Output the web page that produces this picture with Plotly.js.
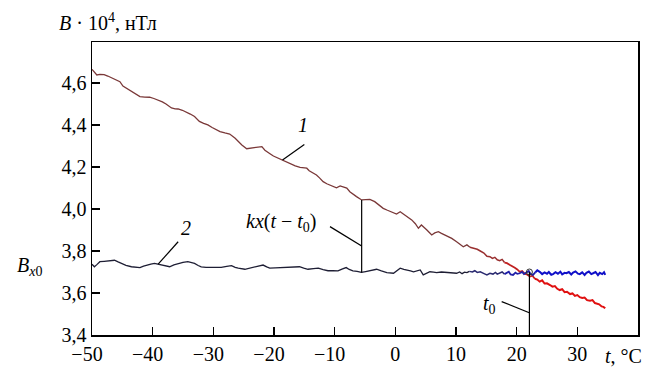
<!DOCTYPE html>
<html>
<head>
<meta charset="utf-8">
<script src="https://cdn.plot.ly/plotly-3.0.1.min.js"></script>
<style>
html,body{margin:0;padding:0;background:#fff;}
#chart{width:655px;height:372px;}
</style>
</head>
<body>
<div id="chart"></div>
<script>
// ---- data ----
const t1 = [-50,-49.6,-49.2,-48.7,-48.0,-47.4,-46.8,-46.3,-45.4,-44.9,-44.2,-43.5,-42.8,-42.1,-41.3,-40.5,-39.8,-39.1,-38.4,-37.8,-36.9,-36.3,-35.8,-35.1,-34.5,-33.8,-33.1,-32.3,-31.6,-30.9,-30.2,-29.5,-28.9,-28.1,-27.3,-26.4,-25.8,-25.3,-24.5,-23.9,-23.4,-22.7,-22.0,-21.5,-21.2,-20.6,-20.1,-19.4,-18.7,-18.0,-17.4,-16.5,-15.7,-14.6,-14.2,-13.6,-13.0,-12.5,-11.9,-11.3,-10.8,-10.2,-9.7,-9.1,-8.5,-8.0,-7.5,-6.9,-6.4,-5.55,-4.9,-4.2,-3.4,-2.7,-2.0,-1.3,-0.6,0.2,0.8,1.6,2.2,2.7,3.3,3.8,4.3,4.8,5.2,5.6,6.0,6.5,7.1,7.6,8.2,8.8,9.3,10.1,10.7,11.2,11.8,12.3,12.9,13.5,14.0,14.6,15.1,15.6,16.0,16.4,16.8,17.2,17.6,18.0,18.4,18.9,19.3,19.7,20.1,20.5,20.9,21.3,21.7,22.2,22.6,23.0,23.4,23.8,24.2,24.6,25.0,25.5,25.9,26.3,26.7,27.1,27.5,27.9,28.3,28.8,29.2,29.6,30.0,30.4,30.8,31.2,31.6,32.1,32.5,32.9,33.2,33.6,34.0,34.3,34.6];
const B1 = [4.665,4.650,4.638,4.641,4.640,4.633,4.626,4.619,4.606,4.585,4.572,4.559,4.547,4.535,4.533,4.532,4.526,4.519,4.510,4.500,4.481,4.477,4.476,4.470,4.463,4.452,4.440,4.417,4.408,4.400,4.388,4.376,4.368,4.362,4.357,4.337,4.318,4.305,4.287,4.289,4.290,4.294,4.297,4.280,4.273,4.262,4.252,4.243,4.234,4.224,4.214,4.205,4.198,4.194,4.182,4.172,4.162,4.148,4.130,4.120,4.114,4.107,4.101,4.110,4.104,4.099,4.082,4.067,4.059,4.043,4.045,4.046,4.035,4.018,4.003,3.994,3.987,3.976,3.987,3.971,3.960,3.948,3.930,3.908,3.924,3.912,3.900,3.888,3.876,3.886,3.892,3.884,3.876,3.868,3.860,3.844,3.832,3.820,3.829,3.818,3.813,3.808,3.800,3.790,3.775,3.773,3.765,3.770,3.758,3.754,3.760,3.745,3.742,3.733,3.728,3.720,3.712,3.701,3.705,3.692,3.688,3.678,3.682,3.668,3.664,3.654,3.660,3.645,3.646,3.638,3.630,3.633,3.620,3.614,3.618,3.604,3.606,3.595,3.598,3.586,3.590,3.580,3.576,3.578,3.566,3.563,3.566,3.552,3.548,3.546,3.536,3.534,3.527];

const t2 = [-50,-49.6,-49.2,-48.7,-48.0,-47.4,-46.8,-46.3,-45.7,-45.2,-44.4,-43.5,-42.8,-42.1,-41.5,-41.0,-40.3,-39.7,-39.0,-38.3,-37.7,-37.2,-36.5,-35.8,-35.0,-34.2,-33.6,-33.1,-32.5,-32.0,-31.2,-30.3,-29.5,-28.7,-27.8,-27.0,-26.4,-25.9,-24.8,-24.0,-23.2,-22.5,-21.8,-21.2,-20.7,-19.8,-18.8,-17.9,-17.1,-16.4,-15.8,-15.1,-14.4,-13.5,-12.7,-11.9,-11.1,-10.3,-9.45,-8.8,-8.1,-7.6,-7.0,-6.3,-5.6,-4.9,-4.2,-3.1,-2.3,-1.4,-0.3,0.3,0.8,1.4,1.9,2.5,3.0,3.6,4.1,4.6,5.2,5.7,6.3,6.8,7.6,8.5,9.3,10.1,10.6,11.0,11.4,11.8,12.2,12.7,13.1,13.5,14.0,14.4,14.8,15.1,15.6,16.1,16.5,16.8,17.2,17.6,18.0,18.3,18.7,19.0,19.4,19.8,20.1,20.5,20.9,21.2,21.6,22.0,22.3,22.7,23.1,23.4,23.8,24.2,24.6,25.0,25.3,25.7,26.0,26.4,26.8,27.2,27.5,27.9,28.2,28.6,29.0,29.3,29.7,30.1,30.4,30.8,31.2,31.5,31.9,32.3,32.6,33.0,33.4,33.7,34.1,34.4,34.6];
const B2 = [3.737,3.725,3.735,3.749,3.751,3.752,3.754,3.756,3.748,3.741,3.732,3.725,3.722,3.721,3.728,3.733,3.738,3.741,3.737,3.733,3.728,3.725,3.734,3.741,3.746,3.749,3.745,3.741,3.731,3.724,3.722,3.722,3.721,3.722,3.727,3.730,3.722,3.718,3.713,3.719,3.725,3.730,3.733,3.724,3.718,3.720,3.721,3.723,3.722,3.724,3.725,3.718,3.713,3.716,3.718,3.711,3.706,3.706,3.705,3.714,3.721,3.712,3.705,3.703,3.698,3.702,3.706,3.713,3.705,3.697,3.694,3.708,3.718,3.712,3.710,3.705,3.701,3.706,3.710,3.686,3.696,3.701,3.699,3.697,3.700,3.697,3.695,3.694,3.700,3.692,3.699,3.697,3.703,3.700,3.706,3.698,3.701,3.694,3.690,3.686,3.694,3.690,3.698,3.690,3.694,3.700,3.690,3.694,3.701,3.688,3.686,3.697,3.691,3.694,3.700,3.690,3.697,3.705,3.690,3.686,3.699,3.708,3.701,3.690,3.698,3.692,3.700,3.687,3.690,3.699,3.692,3.701,3.689,3.696,3.694,3.700,3.688,3.697,3.703,3.692,3.690,3.698,3.686,3.696,3.702,3.690,3.694,3.700,3.685,3.696,3.690,3.699,3.686];

const xTickVals = [-50,-40,-30,-20,-10,0,10,20,30];
const xTickText = ["\u221250\u2002","\u221240\u2002","\u221230\u2002","\u221220\u2002","\u221210\u2002","0","10","20","30"];
const yTickVals = [3.4,3.6,3.8,4.0,4.2,4.4,4.6];
const yTickText = ["3,4","3,6","3,8","4,0","4,2","4,4","4,6"];

// annotation geometry
const t0 = 22.1;
const tk = -5.55;
const B0 = 3.70;
const Bk1 = 4.043, Bk2 = 3.697;

(function () {
  function pick(x, y, lo, hi) {
    const xs = [], ys = [];
    for (let i = 0; i < x.length; i++) {
      if (x[i] >= lo && x[i] <= hi) { xs.push(x[i]); ys.push(y[i]); }
    }
    return {x: xs, y: ys};
  }
  function seg(x, y, lo, hi, color, width) {
    const s = pick(x, y, lo, hi);
    return {x: s.x, y: s.y, type: 'scatter', mode: 'lines', hoverinfo: 'skip',
            line: {color: color, width: width}, showlegend: false};
  }
  const traces = [
    seg(t1, B1, -60, 12.3, '#7a3838', 1.3),
    seg(t1, B1, 12.3, 18.0, '#9a3030', 1.5),
    seg(t1, B1, 18.0, 23.0, '#c02020', 1.8),
    seg(t1, B1, 23.0, 40, '#e01010', 2.0),
    seg(t2, B2, -60, 12.2, '#1e1e34', 1.3),
    seg(t2, B2, 12.2, 18.0, '#2a2a70', 1.5),
    seg(t2, B2, 18.0, 23.1, '#2020a8', 1.8),
    seg(t2, B2, 23.1, 40, '#1010c8', 2.0),
    {x: [t0], y: [B0], type: 'scatter', mode: 'markers', hoverinfo: 'skip', showlegend: false,
     marker: {symbol: 'circle-open', size: 6, color: '#333', line: {width: 1}}}
  ];
  const FAM = 'Liberation Serif';
  function shp(x0, y0, x1, y1) {
    return {type: 'line', xref: 'x', yref: 'y', x0: x0, y0: y0, x1: x1, y1: y1,
            line: {color: '#000', width: 1.2}};
  }
  function ann(x, y, text, refPaper) {
    return {xref: refPaper ? 'paper' : 'x', yref: refPaper ? 'paper' : 'y', x: x, y: y,
            xanchor: 'center', yanchor: 'middle', text: text, showarrow: false,
            font: {family: FAM, size: 20, color: '#000'}};
  }
  const layout = {
    width: 655, height: 372,
    margin: {l: 92, r: 17, t: 42, b: 37},
    paper_bgcolor: '#fff', plot_bgcolor: '#fff',
    font: {family: FAM, size: 20, color: '#000'},
    showlegend: false,
    xaxis: {range: [-50, 40], tickvals: xTickVals, ticktext: xTickText,
            showline: true, mirror: true, linecolor: '#000', linewidth: 1.5,
            ticks: 'inside', ticklen: 8, tickwidth: 1.2, tickcolor: '#000',
            showgrid: false, zeroline: false, tickfont: {family: FAM, size: 20, color: '#000'}},
    yaxis: {range: [3.4, 4.795], tickvals: yTickVals, ticktext: yTickText,
            showline: true, mirror: true, linecolor: '#000', linewidth: 1.5,
            ticks: 'inside', ticklen: 8, tickwidth: 1.2, tickcolor: '#000',
            showgrid: false, zeroline: false, tickfont: {family: FAM, size: 20, color: '#000'}},
    shapes: [
      shp(tk, Bk2, tk, Bk1),
      shp(t0, B0, t0, 3.4),
      shp(-15.0, 4.307, -18.6, 4.233),
      shp(-35.8, 3.844, -39.1, 3.737),
      shp(-10.77, 3.916, -5.55, 3.824),
      shp(17.53, 3.559, 22.08, 3.506)
    ],
    annotations: [
      ann(0.03, 1.068, '<i>B</i> · 10<sup>4</sup>, нТл', true),
      ann(0.974, -0.072, '<i>t</i>, °C', true),
      ann(-0.115, 0.235, '<i>B</i><sub><i>x</i>0</sub>', true),
      ann(-15.2, 4.40, '<i>1</i>', false),
      ann(-34.5, 3.91, '<i>2</i>', false),
      ann(-18.7, 3.938, '<i>kx</i>(<i>t</i> − <i>t</i><sub>0</sub>)', false),
      ann(15.6, 3.543, '<i>t</i><sub>0</sub>', false)
    ]
  };
  Plotly.newPlot('chart', traces, layout, {staticPlot: true});
})();
</script>
</body>
</html>
